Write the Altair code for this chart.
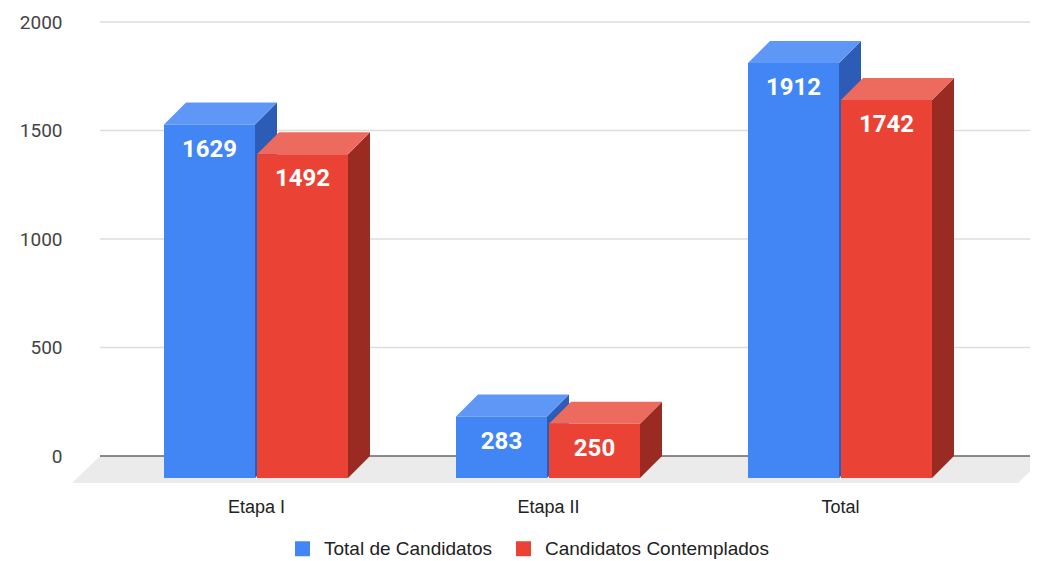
import json
import altair as alt
import pandas as pd

# ---------------- data ----------------
CATEGORIES = ["Etapa I", "Etapa II", "Total"]
SERIES = ["Total de Candidatos", "Candidatos Contemplados"]
TOTAL_CANDIDATOS = [1629, 283, 1912]
CANDIDATOS_CONTEMPLADOS = [1492, 250, 1742]
Y_TICKS = [0, 500, 1000, 1500, 2000]

# ---------------- style ----------------
FRONT = ["#4285F4", "#EA4335"]
TOP = ["#5E97F6", "#ED6A5E"]
SIDE = ["#2C5CB5", "#9A2B23"]

PLOT_W, PLOT_H = 958, 461
PX_CAT = 292.0                     # pixels per category step
X_MIN = -184 / PX_CAT
X_MAX = X_MIN + PLOT_W / PX_CAT
Y_MAX = 2000
PX_PER_VAL = 434 / 2000
Y_MIN = -27 / PX_PER_VAL


def ux(px):
    return px / PX_CAT


def uy(px):
    return px / PX_PER_VAL


BAR_W = ux(91)
GAP = ux(2)
DX = ux(22)
DY = uy(22)
FLOOR_SLANT = ux(28)

values = [TOTAL_CANDIDATOS, CANDIDATOS_CONTEMPLADOS]

fronts, tops, sides = [], [], []
for si, s in enumerate(SERIES):
    for ci, c in enumerate(CATEGORIES):
        v = values[si][ci]
        if si == 0:
            x0, x1 = ci - GAP / 2 - BAR_W, ci - GAP / 2
        else:
            x0, x1 = ci + GAP / 2, ci + GAP / 2 + BAR_W
        f = v - DY
        fronts.append(dict(series=s, cat=c, x0=x0, x1=x1, xc=(x0 + x1) / 2,
                           yb=-DY, yt=f, label=str(v)))
        fid = f"{si}_{ci}"
        for k, (x, y, y2) in enumerate([(x0, f, f), (x0 + DX, v, f), (x1, v, f), (x1 + DX, v, v)]):
            tops.append(dict(series=s, face=fid, k=k, px=x, ya=y, yb=y2))
        for k, (x, y, y2) in enumerate([(x1, f, -DY), (x1 + DX, v, 0)]):
            sides.append(dict(series=s, face=fid, k=k, px=x, ya=y, yb=y2))

fronts = pd.DataFrame(fronts)
tops = pd.DataFrame(tops)
sides = pd.DataFrame(sides)

xr = X_MIN + ux(1018 - 72)
floor = pd.DataFrame([
    dict(px=X_MIN, ya=Y_MIN, yb=Y_MIN),
    dict(px=X_MIN + FLOOR_SLANT, ya=0, yb=Y_MIN),
    dict(px=xr, ya=0, yb=Y_MIN),
    dict(px=xr + FLOOR_SLANT, ya=0, yb=0),
])
grid = pd.DataFrame({"v": [t for t in Y_TICKS if t != 0]})
zero = pd.DataFrame({"v": [0]})

xscale = alt.Scale(domain=[X_MIN, X_MAX], nice=False, zero=False)
yscale = alt.Scale(domain=[Y_MIN, Y_MAX], nice=False, zero=False)
xaxis = alt.Axis(title=None, values=[0, 1, 2],
                 labelExpr=f"{json.dumps(CATEGORIES)}[datum.value]",
                 domain=False, ticks=False, grid=False, labelPadding=15,
                 labelFont="Liberation Sans", labelFontSize=18, labelColor="#222222",
                 labelFlush=False)
yaxis = alt.Axis(title=None, values=Y_TICKS, format="d", domain=False, ticks=False,
                 grid=False, labelPadding=10, labelFont="Roboto", labelFontSize=19,
                 labelColor="#444444")


def X(field):
    return alt.X(field, type="quantitative", scale=xscale, axis=xaxis)


def Y(field):
    return alt.Y(field, type="quantitative", scale=yscale, axis=yaxis)


floor_layer = alt.Chart(floor).mark_area(color="#EBEBEB").encode(
    x=X("px"), y=Y("ya"), y2="yb")

grid_layer = alt.Chart(grid).mark_rule(color="#DDDDDD", strokeWidth=1.3).encode(
    y=Y("v"), x=alt.value(28), x2=alt.value(PLOT_W))

zero_layer = alt.Chart(zero).mark_rule(color="#666666", strokeWidth=1.5).encode(
    y=Y("v"), x=alt.value(28), x2=alt.value(PLOT_W))

layers = [floor_layer, grid_layer, zero_layer]
for si, s in enumerate(SERIES):
    layers.append(
        alt.Chart(sides[sides.series == s]).mark_area(color=SIDE[si]).encode(
            x=X("px"), y=Y("ya"), y2="yb", detail="face:N"))
    layers.append(
        alt.Chart(tops[tops.series == s]).mark_area(color=TOP[si]).encode(
            x=X("px"), y=Y("ya"), y2="yb", detail="face:N"))

front_layer = alt.Chart(fronts).mark_rect().encode(
    x=X("x0"), x2="x1", y=Y("yt"), y2="yb",
    color=alt.Color("series:N", scale=alt.Scale(domain=SERIES, range=FRONT),
                    legend=alt.Legend(orient="none", legendX=221, legendY=517,
                                      direction="horizontal", title=None,
                                      symbolType="square", symbolSize=225,
                                      symbolStrokeWidth=0, symbolOpacity=1,
                                      labelFont="Liberation Sans", labelFontSize=19,
                                      labelColor="#222222", labelOffset=12,
                                      labelLimit=400, columnPadding=22)))
layers.append(front_layer)

text_layer = alt.Chart(fronts).mark_text(
    color="white", font="Roboto", fontWeight="bold", fontSize=24,
    baseline="middle", align="center", dy=25).encode(
    x=X("xc"), y=Y("yt"), text="label:N")
layers.append(text_layer)

chart = alt.layer(*layers).properties(
    width=PLOT_W, height=PLOT_H,
    autosize=alt.AutoSizeParams(type="none"),
    padding={"left": 64, "top": 14, "right": 0, "bottom": 76},
    background="white",
).configure_view(stroke=None)

chart.save("out.html", embed_options={"renderer": "svg", "actions": False})
